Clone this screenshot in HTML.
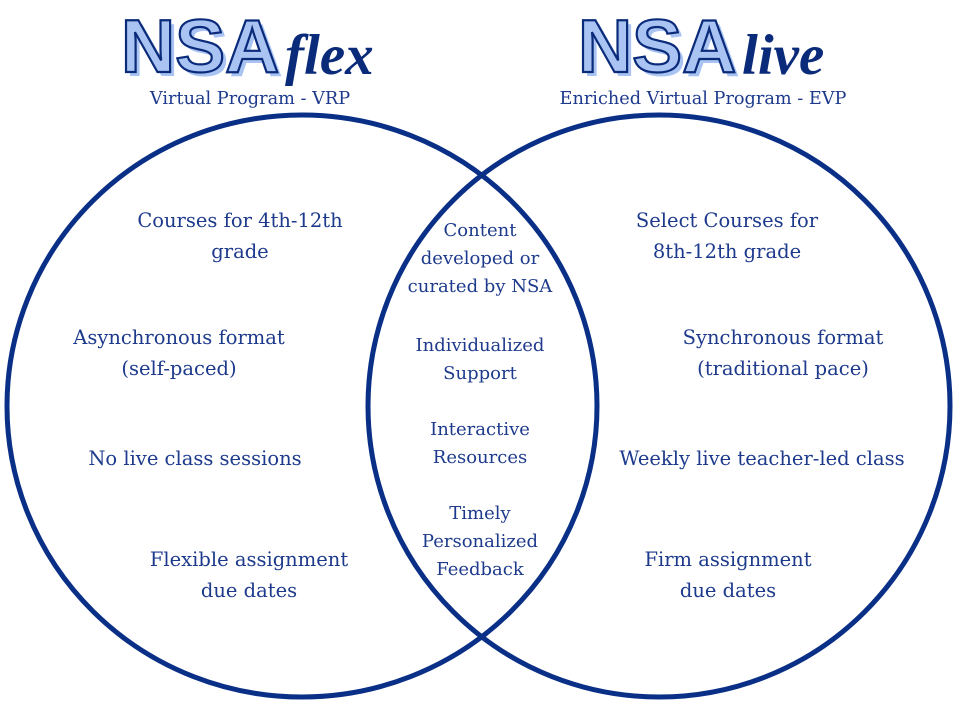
<!DOCTYPE html>
<html><head><meta charset="utf-8"><style>
html,body{margin:0;padding:0;background:#fff;}
svg{display:block}
.b{font-family:"DejaVu Serif","Liberation Serif",serif;font-size:19.5px;fill:#1d3a8c;text-anchor:middle}
.s{font-family:"DejaVu Serif","Liberation Serif",serif;font-size:18px;fill:#1d3a8c;text-anchor:middle}
.t{font-family:"DejaVu Serif","Liberation Serif",serif;font-size:17.7px;fill:#1d3a8c;text-anchor:middle}
.n{font-family:"Liberation Sans",sans-serif;font-weight:bold;font-size:75px;fill:#a9c3f2;stroke:#0a2a7a;stroke-width:2.2}
.sh{font-family:"Liberation Sans",sans-serif;font-weight:bold;font-size:75px;fill:#a9c3f2;}
.f{font-family:"Liberation Serif",serif;font-weight:bold;font-style:italic;font-size:57px;fill:#0a2a7a}
</style></head><body>
<svg width="960" height="720" viewBox="0 0 960 720">
<ellipse cx="302" cy="406" rx="295" ry="291" fill="none" stroke="#0a2f86" stroke-width="5"/>
<ellipse cx="659" cy="406" rx="291" ry="291" fill="none" stroke="#0a2f86" stroke-width="5"/>

<text class="sh" x="125" y="76">NSA</text>
<text class="n" x="121" y="72">NSA</text>
<text class="f" x="285" y="74">flex</text>
<text class="t" x="250" y="104">Virtual Program - VRP</text>

<text class="sh" x="582" y="76">NSA</text>
<text class="n" x="578" y="72">NSA</text>
<text class="f" x="742" y="74">live</text>
<text class="t" x="703" y="104">Enriched Virtual Program - EVP</text>

<text class="b" x="240" y="227">Courses for 4th-12th</text>
<text class="b" x="240" y="258">grade</text>
<text class="b" x="179" y="344">Asynchronous format</text>
<text class="b" x="179" y="375">(self-paced)</text>
<text class="b" x="195" y="465">No live class sessions</text>
<text class="b" x="249" y="566">Flexible assignment</text>
<text class="b" x="249" y="597">due dates</text>

<text class="b" x="727" y="227">Select Courses for</text>
<text class="b" x="727" y="258">8th-12th grade</text>
<text class="b" x="783" y="344">Synchronous format</text>
<text class="b" x="783" y="375">(traditional pace)</text>
<text class="b" x="762" y="465">Weekly live teacher-led class</text>
<text class="b" x="728" y="566">Firm assignment</text>
<text class="b" x="728" y="597">due dates</text>

<text class="s" x="480" y="236">Content</text>
<text class="s" x="480" y="264">developed or</text>
<text class="s" x="480" y="292">curated by NSA</text>
<text class="s" x="480" y="351">Individualized</text>
<text class="s" x="480" y="379">Support</text>
<text class="s" x="480" y="435">Interactive</text>
<text class="s" x="480" y="463">Resources</text>
<text class="s" x="480" y="519">Timely</text>
<text class="s" x="480" y="547">Personalized</text>
<text class="s" x="480" y="575">Feedback</text>
</svg>
</body></html>
